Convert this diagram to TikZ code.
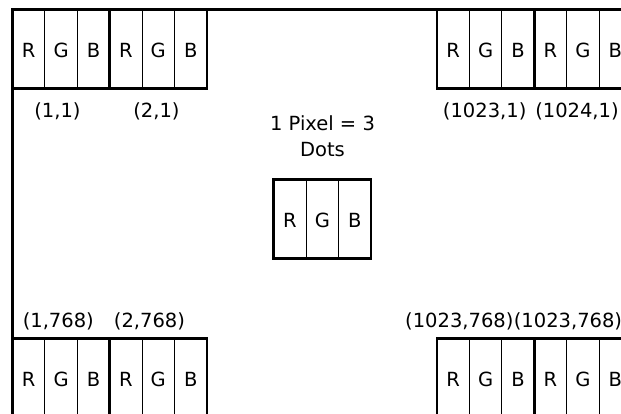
\documentclass[tikz,border=0pt]{standalone}
\usepackage{fontspec}
\setmainfont{DejaVu Sans}
\begin{document}
\begin{tikzpicture}[x=1pt,y=-1pt,
  thickline/.style={line width=2.7pt, line join=miter},
  thinline/.style={line width=1pt},
  lbl/.style={font=\fontsize{19.5}{25.3}\selectfont, inner sep=0pt},
  pixel/.pic={
    \draw[thinline] (32.4,0) -- (32.4,79) (64.8,0) -- (64.8,79);
    \draw[thickline] (0,0) rectangle (97.2,79);
    \node[lbl, anchor=base] (-r) at (16.2,47.5) {R};
    \node[lbl, anchor=base] (-g) at (48.6,47.5) {G};
    \node[lbl, anchor=base] (-b) at (81,47.5) {B};
  }]
\clip (0,0) rectangle (621,413);
\fill[white] (0,0) rectangle (621,413);
% frame
\draw[thickline] (12.5,440) -- (12.5,9.5) -- (660,9.5);
% top-left pixels
\pic (tl1) at (12.5,9.5) {pixel};
\pic (tl2) at (109.7,9.5) {pixel};
% top-right pixels
\pic (tr1) at (437,9.5) {pixel};
\pic (tr2) at (534.2,9.5) {pixel};
% center pixel
\pic (c) at (273.8,179.5) {pixel};
% bottom-left pixels
\pic (bl1) at (12.5,338.5) {pixel};
\pic (bl2) at (109.7,338.5) {pixel};
% bottom-right pixels
\pic (br1) at (437,338.5) {pixel};
\pic (br2) at (534.2,338.5) {pixel};
% labels
\node[lbl, anchor=base] (l11) at (57.5,117.5) {(1,1)};
\node[lbl, anchor=base] (l21) at (156.5,117.5) {(2,1)};
\node[lbl, anchor=base] (l10231) at (484.7,117.5) {(1023,1)};
\node[lbl, anchor=base] (l10241) at (577,117.5) {(1024,1)};
\node[lbl, anchor=base] (l1768) at (58.3,327.5) {(1,768)};
\node[lbl, anchor=base] (l2768) at (149.5,327.5) {(2,768)};
\node[lbl, anchor=base west] (l1023a) at (405,327.5) {(1023,768)};
\node[lbl, anchor=base west] (l1023b) at (l1023a.base east) {(1023,768)};
\node[lbl, anchor=north, align=center] (title) at (322.5,115.9) {1 Pixel = 3\\Dots};
\end{tikzpicture}
\end{document}
